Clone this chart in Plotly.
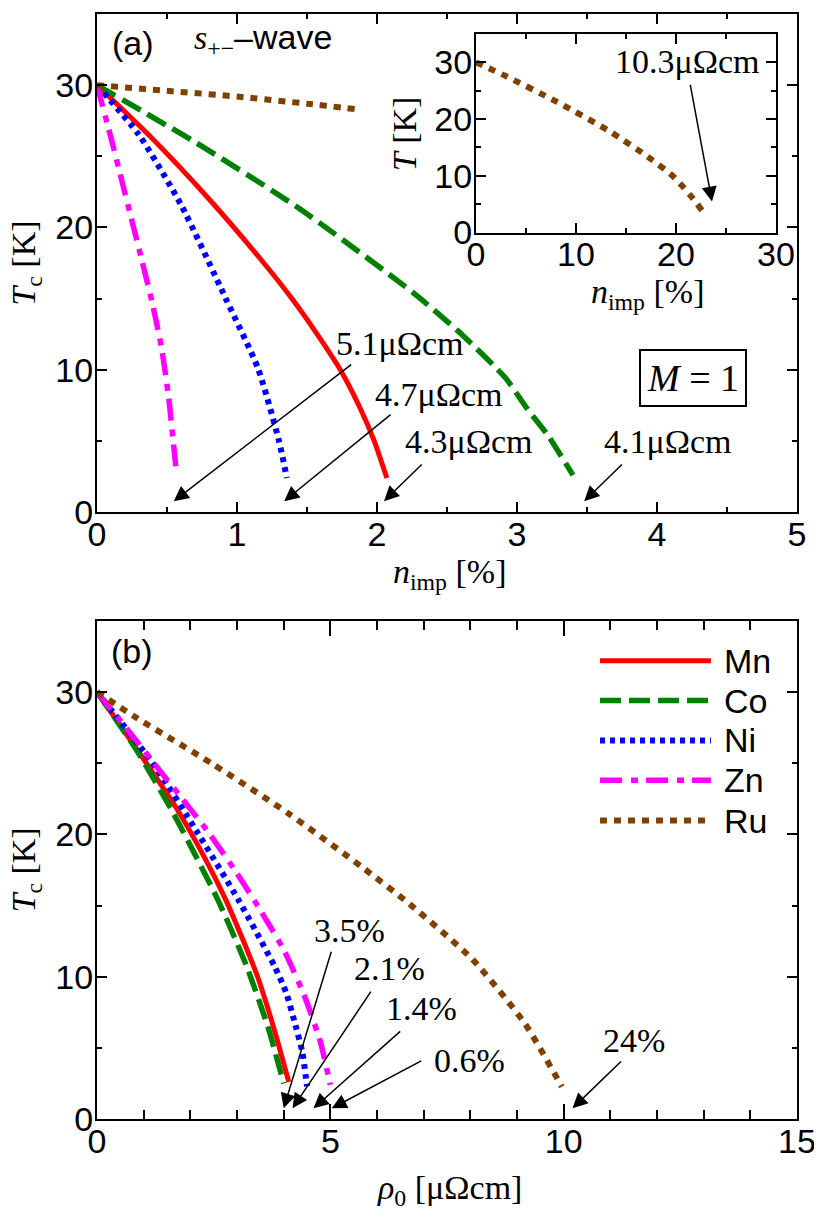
import plotly.graph_objects as go

# ---- data: panel (a) Tc vs n_imp [%]
N_MN_A = [0, 0.4, 0.8, 1.2, 1.4, 1.6, 1.75, 1.88, 1.98, 2.07]
TC_MN_A = [30, 26.2, 22.0, 17.4, 14.9, 12.1, 9.8, 7.3, 5.0, 2.4]
N_CO_A = [0, 0.7, 1.45, 2.26, 2.615, 2.92, 3.07, 3.22, 3.40]
TC_CO_A = [30, 26.0, 21.3, 15.4, 12.4, 9.4, 7.3, 5.4, 2.6]
N_NI_A = [0, 0.3, 0.6, 0.92, 1.15, 1.3, 1.356]
TC_NI_A = [30, 26.5, 21.6, 15.0, 10.1, 5.0, 2.4]
N_ZN_A = [0, 0.1, 0.2, 0.3, 0.39, 0.46, 0.51, 0.567]
TC_ZN_A = [30, 26.3, 22.4, 18.5, 14.9, 11.6, 8.2, 2.8]
N_RU_A = [0, 0.5, 1.0, 1.5, 1.86]
TC_RU_A = [30, 29.6, 29.2, 28.7, 28.3]

# inset: Ru over the full range
N_RU_INSET = [0, 3.07, 8.07, 13.4, 17.2, 19.6, 20.7, 21.7, 22.6]
T_RU_INSET = [30, 27.5, 23.06, 17.8, 13.35, 10.1, 8.06, 6.0, 3.9]

# ---- data: panel (b) Tc vs rho_0 [uOhm cm]
R_MN_B = [0, 0.85, 1.69, 2.3, 2.76, 3.1, 3.43, 3.65, 3.85, 4.11]
TC_MN_B = [30, 26.0, 21.9, 18.4, 15.4, 12.8, 10.1, 7.9, 5.7, 2.6]
R_CO_B = [0, 0.85, 1.6, 2.59, 3.21, 3.66, 4.0]
TC_CO_B = [30, 25.9, 21.7, 15.4, 10.7, 6.5, 2.5]
R_NI_B = [0, 1.26, 2.12, 3.03, 3.81, 4.05, 4.26, 4.4, 4.5]
TC_NI_B = [30, 24.7, 20.3, 15.4, 10.7, 8.9, 6.5, 4.7, 2.3]
R_ZN_B = [0, 0.84, 1.34, 2.33, 2.97, 3.4, 4.0, 4.45, 4.78, 5.0]
TC_ZN_B = [30, 26.6, 24.5, 20.4, 17.4, 15.2, 11.9, 8.6, 5.5, 2.4]
R_RU_B = [0, 0.84, 2.47, 4.11, 5.68, 6.70, 8.05, 9.17, 9.96]
TC_RU_B = [30, 28.2, 24.96, 21.45, 17.7, 15.1, 11.2, 6.7, 2.27]

NAMES = ["Mn", "Co", "Ni", "Zn", "Ru"]

# (label, text x, text y, arrow tail x, tail y, head x, head y)
ANN_A = [
    ("5.1μΩcm", 1.69, 11.82, 1.826, 10.44, 0.548, 0.77),
    ("4.7μΩcm", 1.969, 8.25, 2.108, 6.94, 1.337, 0.77),
    ("4.3μΩcm", 2.183, 4.97, 2.33, 3.45, 2.05, 0.77),
    ("4.1μΩcm", 3.609, 4.97, 3.76, 3.45, 3.48, 0.77),
]
ANN_B = [
    ("3.5%", 4.60, 13.26, 5.03, 11.86, 4.0, 0.75),
    ("2.1%", 5.46, 10.60, 5.89, 9.05, 4.19, 0.75),
    ("1.4%", 6.16, 7.79, 6.53, 6.25, 4.64, 0.75),
    ("0.6%", 7.17, 4.14, 6.98, 4.14, 5.03, 0.75),
    ("24%", 10.80, 5.54, 11.26, 4.14, 10.19, 0.75),
]
ANN_INSET = ("10.3μΩcm", 13.7, 30.16, 21.4, 26.3, 23.6, 5.47)

# ---- styles
SANS = "Liberation Sans"
SERIF = "Liberation Serif"
STYLE = {
    "Mn": {"color": "#FF0000", "width": 5, "dash": "solid"},
    "Co": {"color": "#008000", "width": 5.5, "dash": "21px,8px"},
    "Ni": {"color": "#0000FF", "width": 6, "dash": "5px,5px"},
    "Zn": {"color": "#FF00FF", "width": 5.5, "dash": "22px,9px,7px,8px"},
    "Ru": {"color": "#804000", "width": 6, "dash": "7px,7px"},
}

fig = go.Figure()

panel_a = [(N_MN_A, TC_MN_A), (N_CO_A, TC_CO_A), (N_NI_A, TC_NI_A),
           (N_ZN_A, TC_ZN_A), (N_RU_A, TC_RU_A)]
panel_b = [(R_MN_B, TC_MN_B), (R_CO_B, TC_CO_B), (R_NI_B, TC_NI_B),
           (R_ZN_B, TC_ZN_B), (R_RU_B, TC_RU_B)]


def curve(x, y, name, xa, ya):
    line = dict(STYLE[name], shape="spline", smoothing=0.6)
    return go.Scatter(x=x, y=y, mode="lines", line=line, xaxis=xa, yaxis=ya,
                      showlegend=False)


for name, (x, y) in zip(NAMES, panel_a):
    fig.add_trace(curve(x, y, name, "x", "y"))
for name, (x, y) in zip(NAMES, panel_b):
    fig.add_trace(curve(x, y, name, "x2", "y2"))
fig.add_trace(curve(N_RU_INSET, T_RU_INSET, "Ru", "x3", "y3"))


def axis(rng, dtick, mdtick, domain, anchor, standoff, ticklen=10, mticklen=5):
    return dict(
        range=rng, domain=domain, anchor=anchor, dtick=dtick, tick0=0,
        showline=True, linecolor="black", linewidth=2, mirror="allticks",
        ticks="inside", ticklen=ticklen, tickwidth=2, tickcolor="black",
        showgrid=False, zeroline=False, ticklabelstandoff=standoff,
        tickfont=dict(family=SANS, size=34, color="black"),
        minor=dict(ticks="inside", ticklen=mticklen, tickwidth=2, tickcolor="black",
                   dtick=mdtick, tick0=0, showgrid=False),
    )


ann = []
arrow = dict(showarrow=True, arrowhead=2, arrowsize=2, arrowwidth=1.5,
             arrowcolor="black", text="", standoff=0)
val_font = dict(family=SERIF, size=34, color="black")

for xr, yr, items in (("x", "y", ANN_A), ("x2", "y2", ANN_B)):
    for lab, tx, ty, ax_, ay_, hx, hy in items:
        ann.append(dict(x=tx, y=ty, xref=xr, yref=yr, text=lab, showarrow=False,
                        xanchor="left", yanchor="middle", font=val_font))
        ann.append(dict(arrow, x=hx, y=hy, ax=ax_, ay=ay_, xref=xr, yref=yr,
                        axref=xr, ayref=yr))

lab, tx, ty, ax_, ay_, hx, hy = ANN_INSET
ann.append(dict(x=tx, y=ty, xref="x3", yref="y3", text=lab, showarrow=False,
                xanchor="left", yanchor="middle", font=val_font))
ann.append(dict(arrow, x=hx, y=hy, ax=ax_, ay=ay_, xref="x3", yref="y3",
                axref="x3", ayref="y3"))

# panel labels
ann += [
    dict(x=0.257, y=32.94, xref="x", yref="y", text="(a)", showarrow=False,
         xanchor="center", yanchor="middle", font=dict(family=SANS, size=34, color="black")),
    dict(x=0.678, y=33.2, xref="x", yref="y", showarrow=False, xanchor="left", yanchor="middle",
         text="<i>s</i><sub>+−</sub><span style='font-family:Liberation Sans'>–wave</span>",
         font=dict(family=SERIF, size=34, color="black")),
    dict(x=0.76, y=32.9, xref="x2", yref="y2", text="(b)", showarrow=False,
         xanchor="center", yanchor="middle", font=dict(family=SANS, size=34, color="black")),
    dict(x=4.258, y=9.44, xref="x", yref="y", text="<i>M</i> = 1", showarrow=False,
         xanchor="center", yanchor="middle",
         bordercolor="black", borderwidth=2, borderpad=6, bgcolor="white",
         font=dict(family=SERIF, size=38, color="black")),
]

# axis titles
title_font = dict(family=SERIF, size=34, color="black")
for xr, yr, tx, ty, text, ang in (
    ("x domain", "y domain", 0.504, -0.124, "<i>n</i><sub>imp</sub> [%]", 0),
    ("x domain", "y domain", -0.102, 0.5, "<i>T</i><sub>c</sub> [K]", -90),
    ("x2 domain", "y2 domain", 0.504, -0.142, "<i>ρ</i><sub>0</sub> [μΩcm]", 0),
    ("x2 domain", "y2 domain", -0.102, 0.5, "<i>T</i><sub>c</sub> [K]", -90),
    ("x3 domain", "y3 domain", 0.573, -0.31, "<i>n</i><sub>imp</sub> [%]", 0),
    ("x3 domain", "y3 domain", -0.24, 0.5, "<i>T</i> [K]", -90),
):
    ann.append(dict(x=tx, y=ty, xref=xr, yref=yr, text=text, textangle=ang,
                    showarrow=False, xanchor="center", yanchor="middle", font=title_font))

# hand-drawn legend in panel (b)
shapes = []
LEG_Y = [0.92, 0.84, 0.76, 0.68, 0.599]
for name, ly in zip(NAMES, LEG_Y):
    shapes.append(dict(type="line", xref="x2 domain", yref="y2 domain",
                       x0=0.7186, x1=0.877, y0=ly, y1=ly,
                       line=dict(color=STYLE[name]["color"], width=STYLE[name]["width"],
                                 dash=STYLE[name]["dash"])))
    ann.append(dict(x=0.893, y=ly, xref="x2 domain", yref="y2 domain", text=name,
                    showarrow=False, xanchor="left", yanchor="middle",
                    font=dict(family=SANS, size=34, color="black")))

# page body adds an 8px margin, so the figure is shifted by that much
fig.update_layout(
    width=814, height=1219,
    margin=dict(l=89, r=25, t=4, b=108),
    paper_bgcolor="white", plot_bgcolor="white",
    showlegend=False,
    xaxis=axis([0, 5], 1, 0.5, [0, 1], "y", -9),
    yaxis=axis([0, 35], 10, 5, [0.5492, 1], "x", -5),
    xaxis2=axis([0, 15], 5, 1, [0, 1], "y2", -9, ticklen=15, mticklen=9),
    yaxis2=axis([0, 35], 10, 5, [0, 0.4508], "x2", -5),
    xaxis3=axis([0, 30], 10, 5, [0.5414, 0.97], "y3", -9),
    yaxis3=axis([0, 35], 10, 5, [0.8022, 0.9819], "x3", -5),
    annotations=ann,
    shapes=shapes,
)

fig.write_html("out.html")
